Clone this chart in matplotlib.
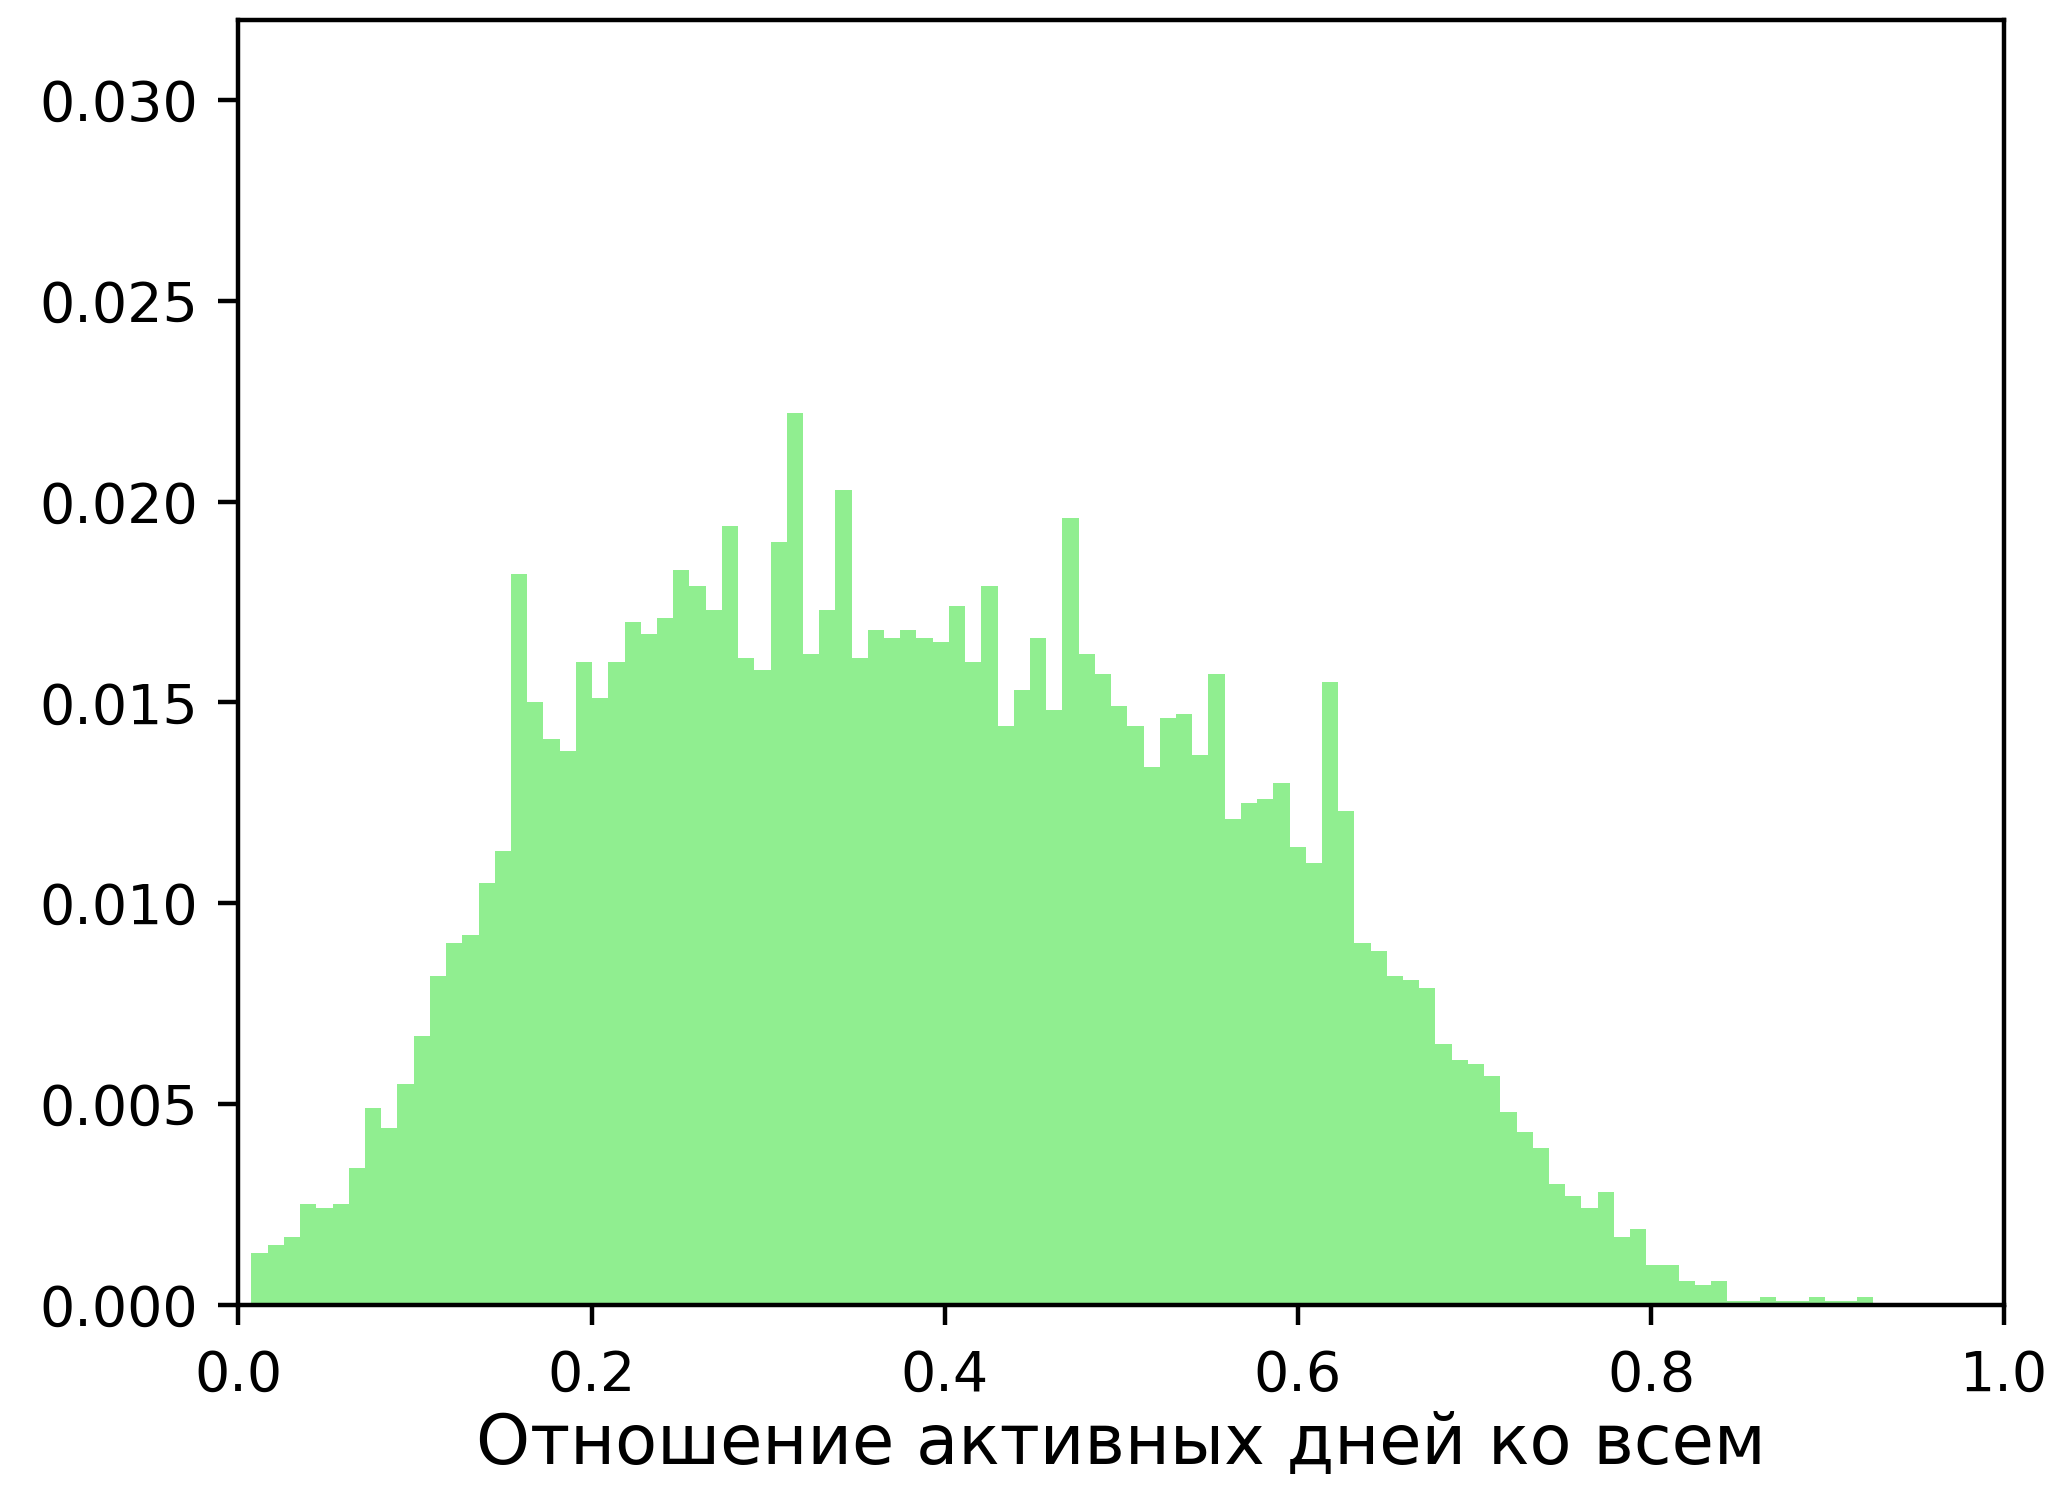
import numpy as np
import matplotlib
matplotlib.use('Agg')
import matplotlib.pyplot as plt

# histogram (density) of active days ratio
bin_start = 0.0074
bin_end = 0.926
heights = [
    0.0013, 0.0015, 0.0017, 0.0025, 0.0024, 0.0025, 0.0034, 0.0049, 0.0044, 0.0055,
    0.0067, 0.0082, 0.0090, 0.0092, 0.0105, 0.0113, 0.0182, 0.0150, 0.0141, 0.0138,
    0.0160, 0.0151, 0.0160, 0.0170, 0.0167, 0.0171, 0.0183, 0.0179, 0.0173, 0.0194,
    0.0161, 0.0158, 0.0190, 0.0222, 0.0162, 0.0173, 0.0203, 0.0161, 0.0168, 0.0166,
    0.0168, 0.0166, 0.0165, 0.0174, 0.0160, 0.0179, 0.0144, 0.0153, 0.0166, 0.0148,
    0.0196, 0.0162, 0.0157, 0.0149, 0.0144, 0.0134, 0.0146, 0.0147, 0.0137, 0.0157,
    0.0121, 0.0125, 0.0126, 0.0130, 0.0114, 0.0110, 0.0155, 0.0123, 0.0090, 0.0088,
    0.0082, 0.0081, 0.0079, 0.0065, 0.0061, 0.0060, 0.0057, 0.0048, 0.0043, 0.0039,
    0.0030, 0.0027, 0.0024, 0.0028, 0.0017, 0.0019, 0.0010, 0.0010, 0.0006, 0.0005,
    0.0006, 0.0001, 0.0001, 0.0002, 0.0001, 0.0001, 0.0002, 0.0001, 0.0001, 0.0002,
]
xlabel = 'Отношение активных дней ко всем'

edges = np.linspace(bin_start, bin_end, len(heights) + 1)

fig = plt.figure(figsize=(20.5, 14.93), dpi=100)
ax = fig.add_axes([0.1163, 0.126, 0.8613, 0.8609])
ax.hist(edges[:-1], bins=edges, weights=heights, color='lightgreen')
ax.set_xlim(0, 1.0)
ax.set_ylim(0, 0.032)
ax.set_yticks([0.0, 0.005, 0.010, 0.015, 0.020, 0.025, 0.030])
ax.set_xticks([0.0, 0.2, 0.4, 0.6, 0.8, 1.0])
ax.set_xlabel(xlabel, fontsize=49.5, labelpad=6)
ax.tick_params(labelsize=40, length=14.5, width=3.2)
ax.tick_params(axis='x', pad=17)
ax.tick_params(axis='y', pad=14.5)
for s in ax.spines.values():
    s.set_linewidth(3.2)

fig.savefig('out.png', dpi=100)
